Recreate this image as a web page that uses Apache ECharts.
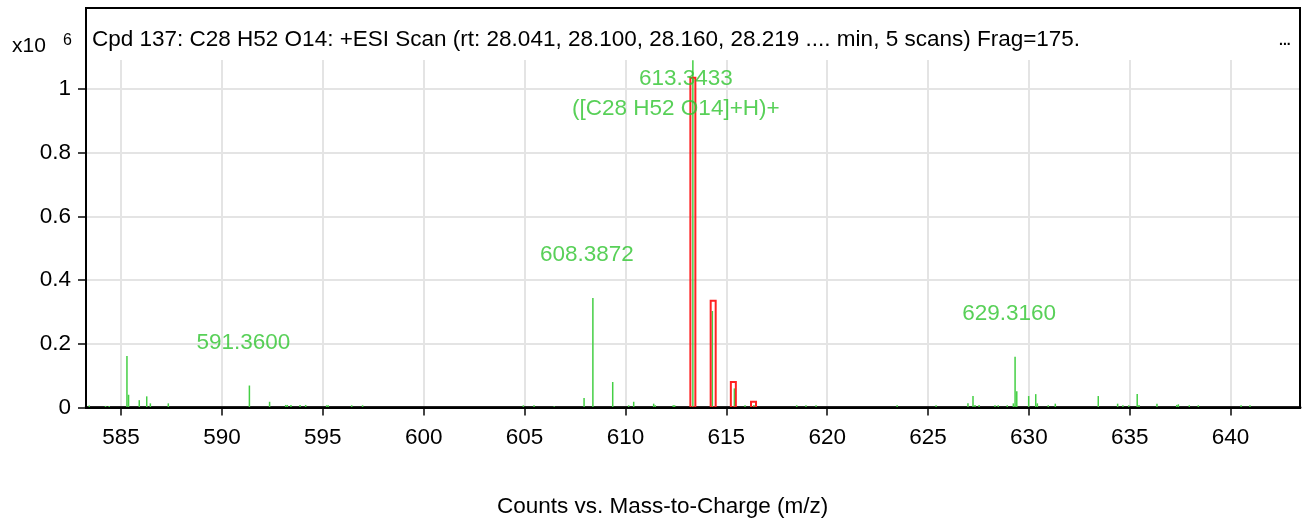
<!DOCTYPE html>
<html><head><meta charset="utf-8">
<script src="https://cdn.jsdelivr.net/npm/echarts@6/dist/echarts.min.js"></script>
<style>html,body{margin:0;padding:0;background:#fff}#c{width:1306px;height:521px}</style>
</head><body><div id="c"></div>
<script>
// Measured spectrum sticks (m/z, counts x10^6)
const mzValues = [583.42,584.23,584.41,585.29,585.37,585.90,586.27,586.45,587.34,591.36,592.36,593.16,593.24,593.42,593.87,594.15,595.19,595.27,596.43,596.97,
  604.94,605.47,606.47,607.95,608.3872,609.37,610.16,610.41,611.40,611.48,612.37,612.44,613.3433,614.31,615.40,615.93,616.37,618.49,618.95,619.45,623.47,
  625.40,626.98,627.23,627.33,627.53,628.32,628.48,628.93,629.23,629.316,629.40,629.99,630.34,630.42,630.96,631.31,633.44,634.40,634.66,634.95,635.37,635.46,636.35,637.33,637.41,637.95,638.40,640.52,640.96];
const counts = [0.006,0.005,0.005,0.162,0.040,0.023,0.035,0.013,0.013,0.069,0.018,0.008,0.008,0.008,0.008,0.008,0.007,0.007,0.007,0.007,
  0.007,0.007,0.004,0.030,0.344,0.080,0.007,0.018,0.012,0.007,0.007,0.007,1.090,0.303,0.060,0.007,0.008,0.007,0.007,0.007,0.007,
  0.007,0.013,0.036,0.008,0.008,0.007,0.007,0.007,0.013,0.159,0.051,0.036,0.042,0.013,0.007,0.012,0.036,0.012,0.007,0.007,0.042,0.008,0.012,0.008,0.010,0.007,0.007,0.007,0.007];
// Predicted isotope pattern (red boxes)
const isoMz = [613.3433, 614.35, 615.35, 616.35];
const isoAbund = [1.035, 0.335, 0.080, 0.018];
// Annotated peaks
const labelMz = [591.3600, 608.3872, 613.3433, 629.3160];
const labelText = ['591.3600', '608.3872', '613.3433', '629.3160'];
const adductText = '([C28 H52 O14]+H)+';
const xTicks = [585, 590, 595, 600, 605, 610, 615, 620, 625, 630, 635, 640];
const yTicks = [0, 0.2, 0.4, 0.6, 0.8, 1];
const titleText = 'Cpd 137: C28 H52 O14: +ESI Scan (rt: 28.041, 28.100, 28.160, 28.219 .... min, 5 scans) Frag=175.';
const xAxisTitle = 'Counts vs. Mass-to-Charge (m/z)';

const FONT = '"Liberation Sans", Arial, sans-serif';
const FS = 22.5;
const GREEN_STICK = '#44cf44';
const GREEN_TEXT = '#2ec42e';
const RED = '#ff2222';

const sticks = mzValues.map((m, i) => [m, counts[i]]);
const iso = isoMz.map((m, i) => [m, isoAbund[i]]);
const labelData = labelMz.map((m, i) => {
  const j = mzValues.findIndex(v => Math.abs(v - m) < 0.01);
  return [m, counts[j], labelText[i]];
});

const chart = echarts.init(document.getElementById('c'), null, {renderer: 'canvas'});

function clampY(y, params) {
  return Math.max(y, params.coordSys.y);
}

const labelItems = [];
labelData.forEach(d => {
  const isMain = d[2] === '613.3433';
  labelItems.push({
    value: [d[0], d[1]],
    label: {show: true, formatter: d[2], offset: isMain ? [-7, 18] : [-6, -43]}
  });
  if (isMain) {
    labelItems.push({
      value: [d[0], d[1]],
      label: {show: true, formatter: adductText, offset: [-17, 48]}
    });
  }
});

chart.setOption({
  animation: false,
  grid: {left: 86, right: 6, top: 60, bottom: 113.5, containLabel: false},
  xAxis: {
    type: 'value', min: 583.26, max: 643.44,
    axisLine: {show: true, onZero: false, lineStyle: {color: '#222', width: 3}},
    axisTick: {show: true, length: 8, customValues: xTicks, lineStyle: {color: '#444', width: 2}},
    axisLabel: {customValues: xTicks, color: '#000', fontSize: FS, fontFamily: FONT, margin: 19},
    splitLine: {show: true, lineStyle: {color: '#e4e4e4', width: 2}}
  },
  yAxis: {
    type: 'value', min: 0, max: 1.091,
    axisLine: {show: true, lineStyle: {color: '#000', width: 2}},
    axisTick: {show: true, length: 8, customValues: yTicks, lineStyle: {color: '#444', width: 2}},
    axisLabel: {customValues: yTicks, color: '#000', fontSize: FS, fontFamily: FONT, margin: 15,
      formatter: v => String(Math.round(v * 10) / 10)},
    splitLine: {show: true, lineStyle: {color: '#e4e4e4', width: 2}}
  },
  series: [
    {
      type: 'custom', name: 'spectrum', data: sticks, z: 3,
      renderItem(params, api) {
        const top = api.coord([api.value(0), api.value(1)]);
        const base = api.coord([api.value(0), 0]);
        return {type: 'line', shape: {x1: top[0], y1: clampY(top[1], params), x2: base[0], y2: base[1]},
          style: {stroke: GREEN_STICK, lineWidth: 1.5}};
      }
    },
    {
      type: 'custom', name: 'isotopes', data: iso, z: 4,
      renderItem(params, api) {
        const top = api.coord([api.value(0), api.value(1)]);
        const base = api.coord([api.value(0), 0]);
        const w = 5;
        return {type: 'rect', shape: {x: top[0] - w / 2, y: top[1], width: w, height: base[1] - top[1]},
          style: {fill: 'rgba(0,0,0,0)', stroke: RED, lineWidth: 2}};
      }
    },
    {
      type: 'scatter', name: 'labels', symbolSize: 0, z: 5, silent: true,
      data: labelItems,
      label: {show: true, position: 'inside', color: GREEN_TEXT, fontSize: FS, fontFamily: FONT}
    }
  ],
  graphic: [
    {type: 'rect', shape: {x: 86, y: 8, width: 1214, height: 400}, style: {fill: 'none', stroke: '#000', lineWidth: 2}, z: 10, silent: true},
    {type: 'text', left: 92, top: 28, style: {text: titleText, font: FS + 'px ' + FONT, fill: '#000'}, z: 10},
    {type: 'text', left: 1279, top: 34, style: {text: '...', font: 'bold 14px ' + FONT, fill: '#000'}, z: 10},
    {type: 'text', left: 12, top: 36, style: {text: 'x10', font: '21px ' + FONT, fill: '#000'}, z: 10},
    {type: 'text', left: 63, top: 33, style: {text: '6', font: '16px ' + FONT, fill: '#000'}, z: 10},
    {type: 'text', left: 497, top: 495, style: {text: xAxisTitle, font: FS + 'px ' + FONT, fill: '#000'}, z: 10}
  ]
});
</script></body></html>
